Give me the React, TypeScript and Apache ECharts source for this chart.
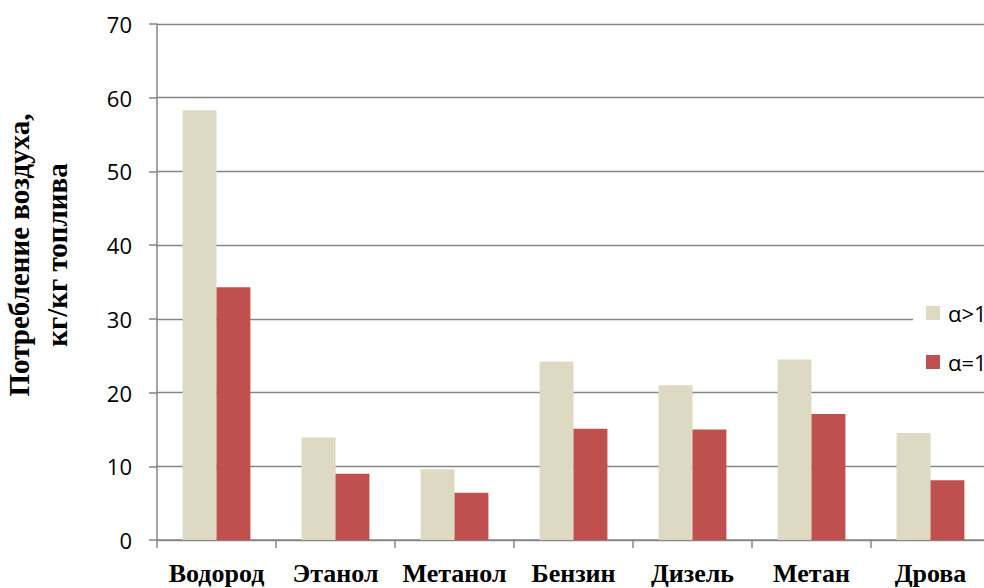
import React, { useEffect, useRef } from "react";
import * as echarts from "echarts";

// Fuels on the category axis
const fuels = ["Водород", "Этанол", "Метанол", "Бензин", "Дизель", "Метан", "Дрова"];

// Air consumption, kg of air per kg of fuel
const excessAir = [58.3, 13.9, 9.6, 24.2, 21.0, 24.5, 14.5]; // α>1
const stoichAir = [34.3, 9.0, 6.4, 15.1, 15.0, 17.1, 8.1]; // α=1

const seriesNames = ["α>1", "α=1"];
const yTicks = { min: 0, max: 70, interval: 10 };

const axisGray = "#868686";

export default function App() {
  const ref = useRef<HTMLDivElement>(null);

  useEffect(() => {
    if (!ref.current) return;
    const chart = echarts.init(ref.current, undefined, { renderer: "svg" });
    chart.setOption({
      animation: false,
      backgroundColor: "#ffffff",
      grid: {
        left: 157,
        top: 24,
        width: 833,
        height: 516,
        containLabel: false,
        outerBoundsMode: "none",
      },
      legend: {
        orient: "vertical",
        left: 913,
        top: 293,
        padding: [9, 40, 9, 13],
        backgroundColor: "#ffffff",
        itemWidth: 14,
        itemHeight: 14,
        itemGap: 27,
        icon: "rect",
        data: seriesNames,
        textStyle: { fontFamily: "Open Sans", fontSize: 22, color: "#000", padding: [0, 0, 0, 3] },
      },
      xAxis: {
        type: "category",
        data: fuels,
        axisLine: { show: true, lineStyle: { color: axisGray, width: 1.5 } },
        axisTick: { show: true, length: 8, lineStyle: { color: axisGray, width: 1.5 } },
        axisLabel: {
          interval: 0,
          margin: 20,
          fontFamily: "Liberation Serif",
          fontWeight: "bold",
          fontSize: 26,
          color: "#000",
        },
      },
      yAxis: {
        type: "value",
        min: yTicks.min,
        max: yTicks.max,
        interval: yTicks.interval,
        axisLine: { show: true, lineStyle: { color: axisGray, width: 1.5 } },
        axisTick: { show: true, length: 8, lineStyle: { color: axisGray, width: 1.5 } },
        splitLine: { show: true, lineStyle: { color: axisGray, width: 1.3 } },
        axisLabel: {
          margin: 25,
          fontFamily: "Open Sans",
          fontSize: 22,
          color: "#000",
        },
      },
      graphic: [
        {
          type: "text",
          x: 38,
          y: 255,
          rotation: Math.PI / 2,
          style: {
            text: "Потребление воздуха,\nкг/кг топлива",
            fontFamily: "Liberation Serif",
            fontWeight: "bold",
            fontSize: 29,
            lineHeight: 38,
            fill: "#000",
            align: "center",
            verticalAlign: "middle",
          },
        },
      ],
      series: [
        {
          name: seriesNames[0],
          type: "bar",
          data: excessAir,
          barGap: "0%",
          barCategoryGap: "43%",
          itemStyle: { color: "#DDD9C3" },
        },
        {
          name: seriesNames[1],
          type: "bar",
          data: stoichAir,
          barGap: "0%",
          barCategoryGap: "43%",
          itemStyle: { color: "#C0504D" },
        },
      ],
    });
    return () => chart.dispose();
  }, []);

  return (
    <div
      ref={ref}
      style={{ position: "fixed", left: 0, top: 0, width: 984, height: 588 }}
    />
  );
}
